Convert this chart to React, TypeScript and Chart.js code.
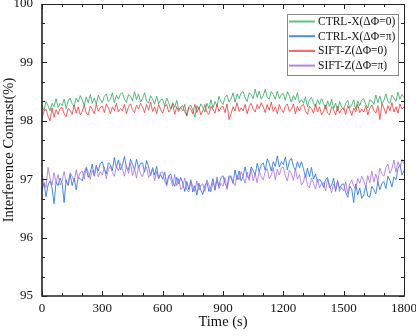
import React, { useEffect, useRef } from "react";
import { Chart, registerables } from "chart.js";

Chart.register(...registerables);

const times = [
  0, 10, 20, 30, 40, 50, 60, 70, 80, 90,
  100, 110, 120, 130, 140, 150, 160, 170, 180, 190,
  200, 210, 220, 230, 240, 250, 260, 270, 280, 290,
  300, 310, 320, 330, 340, 350, 360, 370, 380, 390,
  400, 410, 420, 430, 440, 450, 460, 470, 480, 490,
  500, 510, 520, 530, 540, 550, 560, 570, 580, 590,
  600, 610, 620, 630, 640, 650, 660, 670, 680, 690,
  700, 710, 720, 730, 740, 750, 760, 770, 780, 790,
  800, 810, 820, 830, 840, 850, 860, 870, 880, 890,
  900, 910, 920, 930, 940, 950, 960, 970, 980, 990,
  1000, 1010, 1020, 1030, 1040, 1050, 1060, 1070, 1080, 1090,
  1100, 1110, 1120, 1130, 1140, 1150, 1160, 1170, 1180, 1190,
  1200, 1210, 1220, 1230, 1240, 1250, 1260, 1270, 1280, 1290,
  1300, 1310, 1320, 1330, 1340, 1350, 1360, 1370, 1380, 1390,
  1400, 1410, 1420, 1430, 1440, 1450, 1460, 1470, 1480, 1490,
  1500, 1510, 1520, 1530, 1540, 1550, 1560, 1570, 1580, 1590,
  1600, 1610, 1620, 1630, 1640, 1650, 1660, 1670, 1680, 1690,
  1700, 1710, 1720, 1730, 1740, 1750, 1760, 1770, 1780, 1790,
  1800,
];

const ctrlX0 = [
  98.27, 98.17, 98.33, 98.26, 98.17, 98.3, 98.24, 98.38, 98.23, 98.3,
  98.26, 98.37, 98.21, 98.34, 98.39, 98.29, 98.25, 98.39, 98.32, 98.43,
  98.36, 98.26, 98.41, 98.31, 98.45, 98.3, 98.39, 98.28, 98.44, 98.36,
  98.31, 98.42, 98.46, 98.33, 98.37, 98.48, 98.31, 98.44, 98.37, 98.46,
  98.48, 98.37, 98.31, 98.45, 98.42, 98.34, 98.5, 98.36, 98.46, 98.32,
  98.38, 98.48, 98.34, 98.3, 98.43, 98.37, 98.29, 98.42, 98.29, 98.36,
  98.37, 98.25, 98.39, 98.31, 98.2, 98.31, 98.23, 98.35, 98.19, 98.23,
  98.17, 98.28, 98.08, 98.24, 98.27, 98.18, 98.06, 98.26, 98.19, 98.29,
  98.23, 98.15, 98.3, 98.21, 98.36, 98.22, 98.33, 98.25, 98.42, 98.32,
  98.28, 98.4, 98.44, 98.32, 98.37, 98.48, 98.32, 98.46, 98.38, 98.48,
  98.5, 98.39, 98.33, 98.48, 98.45, 98.38, 98.54, 98.4, 98.51, 98.37,
  98.43, 98.54, 98.4, 98.37, 98.5, 98.45, 98.37, 98.51, 98.38, 98.45,
  98.47, 98.35, 98.5, 98.42, 98.32, 98.43, 98.36, 98.48, 98.31, 98.36,
  98.3, 98.41, 98.24, 98.36, 98.4, 98.3, 98.24, 98.36, 98.28, 98.38,
  98.3, 98.2, 98.34, 98.24, 98.37, 98.21, 98.3, 98.17, 98.33, 98.24,
  98.19, 98.3, 98.35, 98.22, 98.27, 98.36, 98.2, 98.34, 98.26, 98.36,
  98.38, 98.28, 98.22, 98.36, 98.34, 98.28, 98.44, 98.31, 98.42, 98.29,
  98.35, 98.46, 98.33, 98.3, 98.44, 98.39, 98.33, 98.49, 98.37, 98.45,
  98.4,
];

const ctrlXpi = [
  96.8, 96.94, 96.7, 96.9, 96.97, 96.85, 96.58, 96.95, 96.89, 97.02,
  96.93, 96.6, 96.99, 96.89, 97.08, 96.89, 97.02, 96.82, 97.03, 97.01,
  96.97, 97.12, 97.19, 97.03, 97.11, 97.26, 97.05, 97.23, 97.14, 97.27,
  97.3, 97.17, 97.09, 97.28, 97.25, 97.15, 97.37, 97.2, 97.33, 97.16,
  97.24, 97.39, 97.19, 97.16, 97.34, 97.26, 97.16, 97.34, 97.19, 97.27,
  97.28, 97.12, 97.32, 97.21, 97.06, 97.19, 97.07, 97.22, 97.01, 97.08,
  97.0, 97.12, 96.91, 97.05, 97.09, 96.95, 96.88, 97.03, 96.92, 97.03,
  96.93, 96.79, 96.96, 96.82, 96.99, 96.78, 96.89, 96.73, 96.93, 96.81,
  96.74, 96.89, 96.95, 96.79, 96.87, 97.01, 96.81, 96.99, 96.88, 97.03,
  97.06, 96.93, 96.86, 97.06, 97.03, 96.93, 97.16, 96.99, 97.14, 96.97,
  97.05, 97.21, 97.04, 97.02, 97.21, 97.15, 97.07, 97.27, 97.13, 97.24,
  97.28, 97.15, 97.35, 97.27, 97.14, 97.3, 97.22, 97.4, 97.21, 97.3,
  97.25, 97.38, 97.16, 97.31, 97.36, 97.22, 97.15, 97.3, 97.2, 97.3,
  97.18, 97.03, 97.19, 97.04, 97.2, 97.0, 97.09, 96.95, 97.0, 96.95,
  96.86, 96.99, 97.03, 96.85, 96.9, 97.02, 96.79, 96.96, 96.84, 96.91,
  96.92, 96.77, 96.69, 96.88, 96.83, 96.6, 96.92, 96.73, 96.85, 96.67,
  96.73, 96.89, 96.71, 96.69, 96.88, 96.82, 96.75, 96.96, 96.82, 96.93,
  96.96, 96.84, 97.05, 96.98, 96.87, 97.04, 96.99, 97.18, 97.25, 97.07,
  97.15,
];

const siftZ0 = [
  98.05, 98.16, 98.2, 98.08, 98.0, 98.22, 98.06, 98.19, 98.11, 98.21,
  98.23, 98.12, 98.07, 98.21, 98.18, 98.11, 98.27, 98.13, 98.24, 98.1,
  98.16, 98.27, 98.13, 98.1, 98.25, 98.2, 98.12, 98.28, 98.16, 98.23,
  98.25, 98.14, 98.29, 98.22, 98.12, 98.24, 98.17, 98.3, 98.15, 98.21,
  98.17, 98.28, 98.12, 98.24, 98.29, 98.19, 98.14, 98.27, 98.2, 98.3,
  98.24, 98.14, 98.28, 98.18, 98.32, 98.16, 98.24, 98.12, 98.28, 98.19,
  98.13, 98.24, 98.28, 98.15, 98.19, 98.28, 98.11, 98.24, 98.16, 98.24,
  98.26, 98.15, 98.09, 98.23, 98.2, 98.12, 98.28, 98.14, 98.24, 98.1,
  98.17, 98.28, 98.14, 98.11, 98.25, 98.2, 98.13, 98.28, 98.16, 98.23,
  98.25, 98.14, 98.29, 98.02, 98.12, 98.24, 98.17, 98.31, 98.16, 98.22,
  98.17, 98.28, 98.12, 98.24, 98.3, 98.2, 98.15, 98.28, 98.21, 98.31,
  98.24, 98.14, 98.28, 98.18, 98.32, 98.16, 98.24, 98.12, 98.28, 98.19,
  98.14, 98.25, 98.29, 98.16, 98.2, 98.29, 98.12, 98.25, 98.17, 98.26,
  98.28, 98.17, 98.11, 98.25, 98.21, 98.13, 98.29, 98.15, 98.24, 98.1,
  98.16, 98.27, 98.13, 98.1, 98.24, 98.19, 98.1, 98.25, 98.13, 98.2,
  98.22, 98.11, 98.26, 98.19, 98.09, 98.22, 98.15, 98.28, 98.14, 98.2,
  98.15, 98.26, 98.1, 98.22, 98.27, 98.18, 98.13, 98.26, 98.02, 98.29,
  98.22, 98.12, 98.26, 98.17, 98.31, 98.15, 98.24, 98.13, 98.29, 98.2,
  98.24,
];

const siftZpi = [
  97.08, 96.94, 96.86, 97.2, 97.01, 96.9, 97.11, 96.94, 97.08, 96.9,
  96.97, 97.13, 96.94, 96.92, 97.11, 97.05, 96.96, 97.16, 97.01, 97.11,
  97.14, 97.0, 97.21, 97.12, 97.0, 97.15, 97.07, 97.24, 97.04, 97.13,
  97.07, 97.21, 97.01, 97.17, 97.23, 97.11, 97.05, 97.22, 97.14, 97.27,
  97.18, 97.05, 97.23, 97.1, 97.28, 97.06, 97.18, 97.02, 97.22, 97.1,
  97.04, 97.17, 97.21, 97.03, 97.08, 97.2, 96.97, 97.13, 97.01, 97.12,
  97.12, 96.97, 96.88, 97.06, 97.0, 96.88, 97.08, 96.89, 97.01, 96.82,
  96.87, 97.02, 96.82, 96.78, 96.96, 96.89, 96.79, 96.97, 96.81, 96.9,
  96.92, 96.79, 96.99, 96.9, 96.78, 96.94, 96.86, 97.04, 96.84, 96.93,
  96.88, 97.03, 96.82, 96.99, 97.06, 96.94, 96.89, 97.07, 96.99, 97.13,
  97.05, 96.93, 97.12, 96.98, 97.17, 96.97, 97.09, 96.94, 97.15, 97.04,
  96.99, 97.13, 97.18, 97.01, 97.07, 97.2, 96.99, 97.17, 97.07, 97.19,
  97.21, 97.06, 96.97, 97.15, 97.1, 96.98, 97.18, 97.0, 97.08, 96.9,
  96.95, 97.09, 96.9, 96.85, 97.02, 96.93, 96.83, 97.01, 96.85, 96.93,
  96.94, 96.8, 97.0, 96.9, 96.77, 96.92, 96.82, 96.99, 96.79, 96.86,
  96.8, 96.95, 96.75, 96.92, 96.99, 96.88, 96.83, 97.01, 96.93, 97.05,
  96.97, 96.86, 97.06, 96.94, 97.14, 96.95, 97.09, 96.95, 97.19, 97.09,
  97.05, 97.2, 97.26, 97.1, 97.18, 97.33, 97.12, 97.3, 97.21, 97.34,
  97.26,
];

const seriesNames = ["CTRL-X(\u0394\u03A6=0)", "CTRL-X(\u0394\u03A6=\u03C0)", "SIFT-Z(\u0394\u03A6=0)", "SIFT-Z(\u0394\u03A6=\u03C0)"];
const seriesColors = ["rgba(46,168,92,0.8)", "rgba(26,110,224,0.8)", "rgba(238,56,56,0.8)", "rgba(168,110,226,0.8)"];
const legendColors = ["#5cc281", "#4a8ee8", "#f06464", "#b585e6"];

const xTicks = [0, 300, 600, 900, 1200, 1500, 1800];
const yTicks = [95, 96, 97, 98, 99, 100];

const FONT = "'Liberation Serif', 'Times New Roman', serif";

const framePlugin = {
  id: "originFrame",
  afterDraw(chart: any) {
    const { ctx, chartArea } = chart;
    const { left, right, top, bottom } = chartArea;
    const xs = chart.scales.x;
    const ys = chart.scales.y;
    ctx.save();
    ctx.strokeStyle = "#222";
    ctx.lineWidth = 1;
    ctx.beginPath();
    ctx.moveTo(left, top + 0.5);
    ctx.lineTo(right + 0.5, top + 0.5);
    ctx.lineTo(right + 0.5, bottom);
    ctx.stroke();
    ctx.lineWidth = 1.6;
    ctx.beginPath();
    ctx.moveTo(left, top);
    ctx.lineTo(left, bottom);
    ctx.lineTo(right + 1, bottom);
    ctx.stroke();
    ctx.lineWidth = 1;
    for (let v = 0; v <= 1800; v += 100) {
      const px = Math.round(xs.getPixelForValue(v)) + 0.5;
      const len = v % 300 === 0 ? 5 : 3;
      ctx.beginPath();
      ctx.moveTo(px, bottom);
      ctx.lineTo(px, bottom - len);
      ctx.moveTo(px, top);
      ctx.lineTo(px, top + len);
      ctx.stroke();
    }
    for (let k = 0; k <= 15; k++) {
      const v = 95 + k / 3;
      const py = Math.round(ys.getPixelForValue(v)) + 0.5;
      const len = k % 3 === 0 ? 5 : 3;
      ctx.beginPath();
      ctx.moveTo(left, py);
      ctx.lineTo(left + len, py);
      ctx.moveTo(right, py);
      ctx.lineTo(right - len, py);
      ctx.stroke();
    }
    const bx = 287.5, by = 14.5, bw = 111, bh = 61;
    ctx.fillStyle = "#fff";
    ctx.fillRect(bx, by, bw, bh);
    ctx.strokeStyle = "#888";
    ctx.lineWidth = 1;
    ctx.strokeRect(bx, by, bw, bh);
    ctx.font = `11.5px ${FONT}`;
    ctx.textBaseline = "middle";
    ctx.textAlign = "left";
    chart.data.datasets.forEach((ds: any, i: number) => {
      const y = 21.5 + i * 14.7;
      ctx.strokeStyle = legendColors[i];
      ctx.lineWidth = 2;
      ctx.beginPath();
      ctx.moveTo(289, y);
      ctx.lineTo(315, y);
      ctx.stroke();
      ctx.fillStyle = "#111";
      ctx.fillText(ds.label, 318, y + 0.5);
    });
    ctx.restore();
  },
};

export default function App() {
  const ref = useRef<HTMLCanvasElement | null>(null);
  useEffect(() => {
    if (!ref.current) return;
    const mk = (ys: number[]) => times.map((t, i) => ({ x: t, y: ys[i] }));
    const all = [ctrlX0, ctrlXpi, siftZ0, siftZpi];
    const chart = new Chart(ref.current, {
      type: "line",
      data: {
        datasets: all.map((arr, i) => ({
          label: seriesNames[i],
          data: mk(arr),
          borderColor: seriesColors[i],
          borderWidth: 1,
          pointRadius: 0,
          tension: 0,
          fill: false,
          order: [4, 3, 2, 1][i],
        })),
      },
      options: {
        animation: false,
        responsive: false,
        layout: { padding: { left: 0, right: 12, top: 4, bottom: 0 } },
        plugins: { legend: { display: false }, tooltip: { enabled: false } },
        scales: {
          x: {
            type: "linear",
            min: 0,
            max: 1800,
            afterBuildTicks: (s: any) => {
              s.ticks = xTicks.map((v) => ({ value: v }));
            },
            afterFit: (s: any) => {
              s.height = 40;
              s.paddingLeft = 0;
              s.paddingRight = 0;
            },
            grid: { display: false, drawTicks: false },
            border: { display: false },
            ticks: {
              color: "#111",
              font: { family: FONT, size: 13 },
              padding: 5,
              maxRotation: 0,
              autoSkip: false,
              callback: (v: any) => String(v),
            },
            title: { display: true, text: "Time (s)", color: "#111", font: { family: FONT, size: 14.5 }, padding: { top: 0, bottom: 5 } },
          },
          y: {
            type: "linear",
            min: 95,
            max: 100,
            afterBuildTicks: (s: any) => {
              s.ticks = yTicks.map((v) => ({ value: v }));
            },
            afterFit: (s: any) => {
              s.width = 42;
              s.paddingTop = 0;
              s.paddingBottom = 0;
            },
            grid: { display: false, drawTicks: false },
            border: { display: false },
            ticks: { color: "#111", font: { family: FONT, size: 13 }, padding: 9, callback: (v: any) => String(v) },
            title: { display: true, text: "Interference Contrast(%)", color: "#111", font: { family: FONT, size: 14.5 }, padding: { top: 0, bottom: 0 } },
          },
        },
      },
      plugins: [framePlugin],
    });
    return () => chart.destroy();
  }, []);
  return (
    <div style={{ position: "absolute", left: 0, top: 0, width: 416, height: 336, background: "#fff" }}>
      <canvas ref={ref} width={416} height={336} style={{ display: "block" }} />
    </div>
  );
}
